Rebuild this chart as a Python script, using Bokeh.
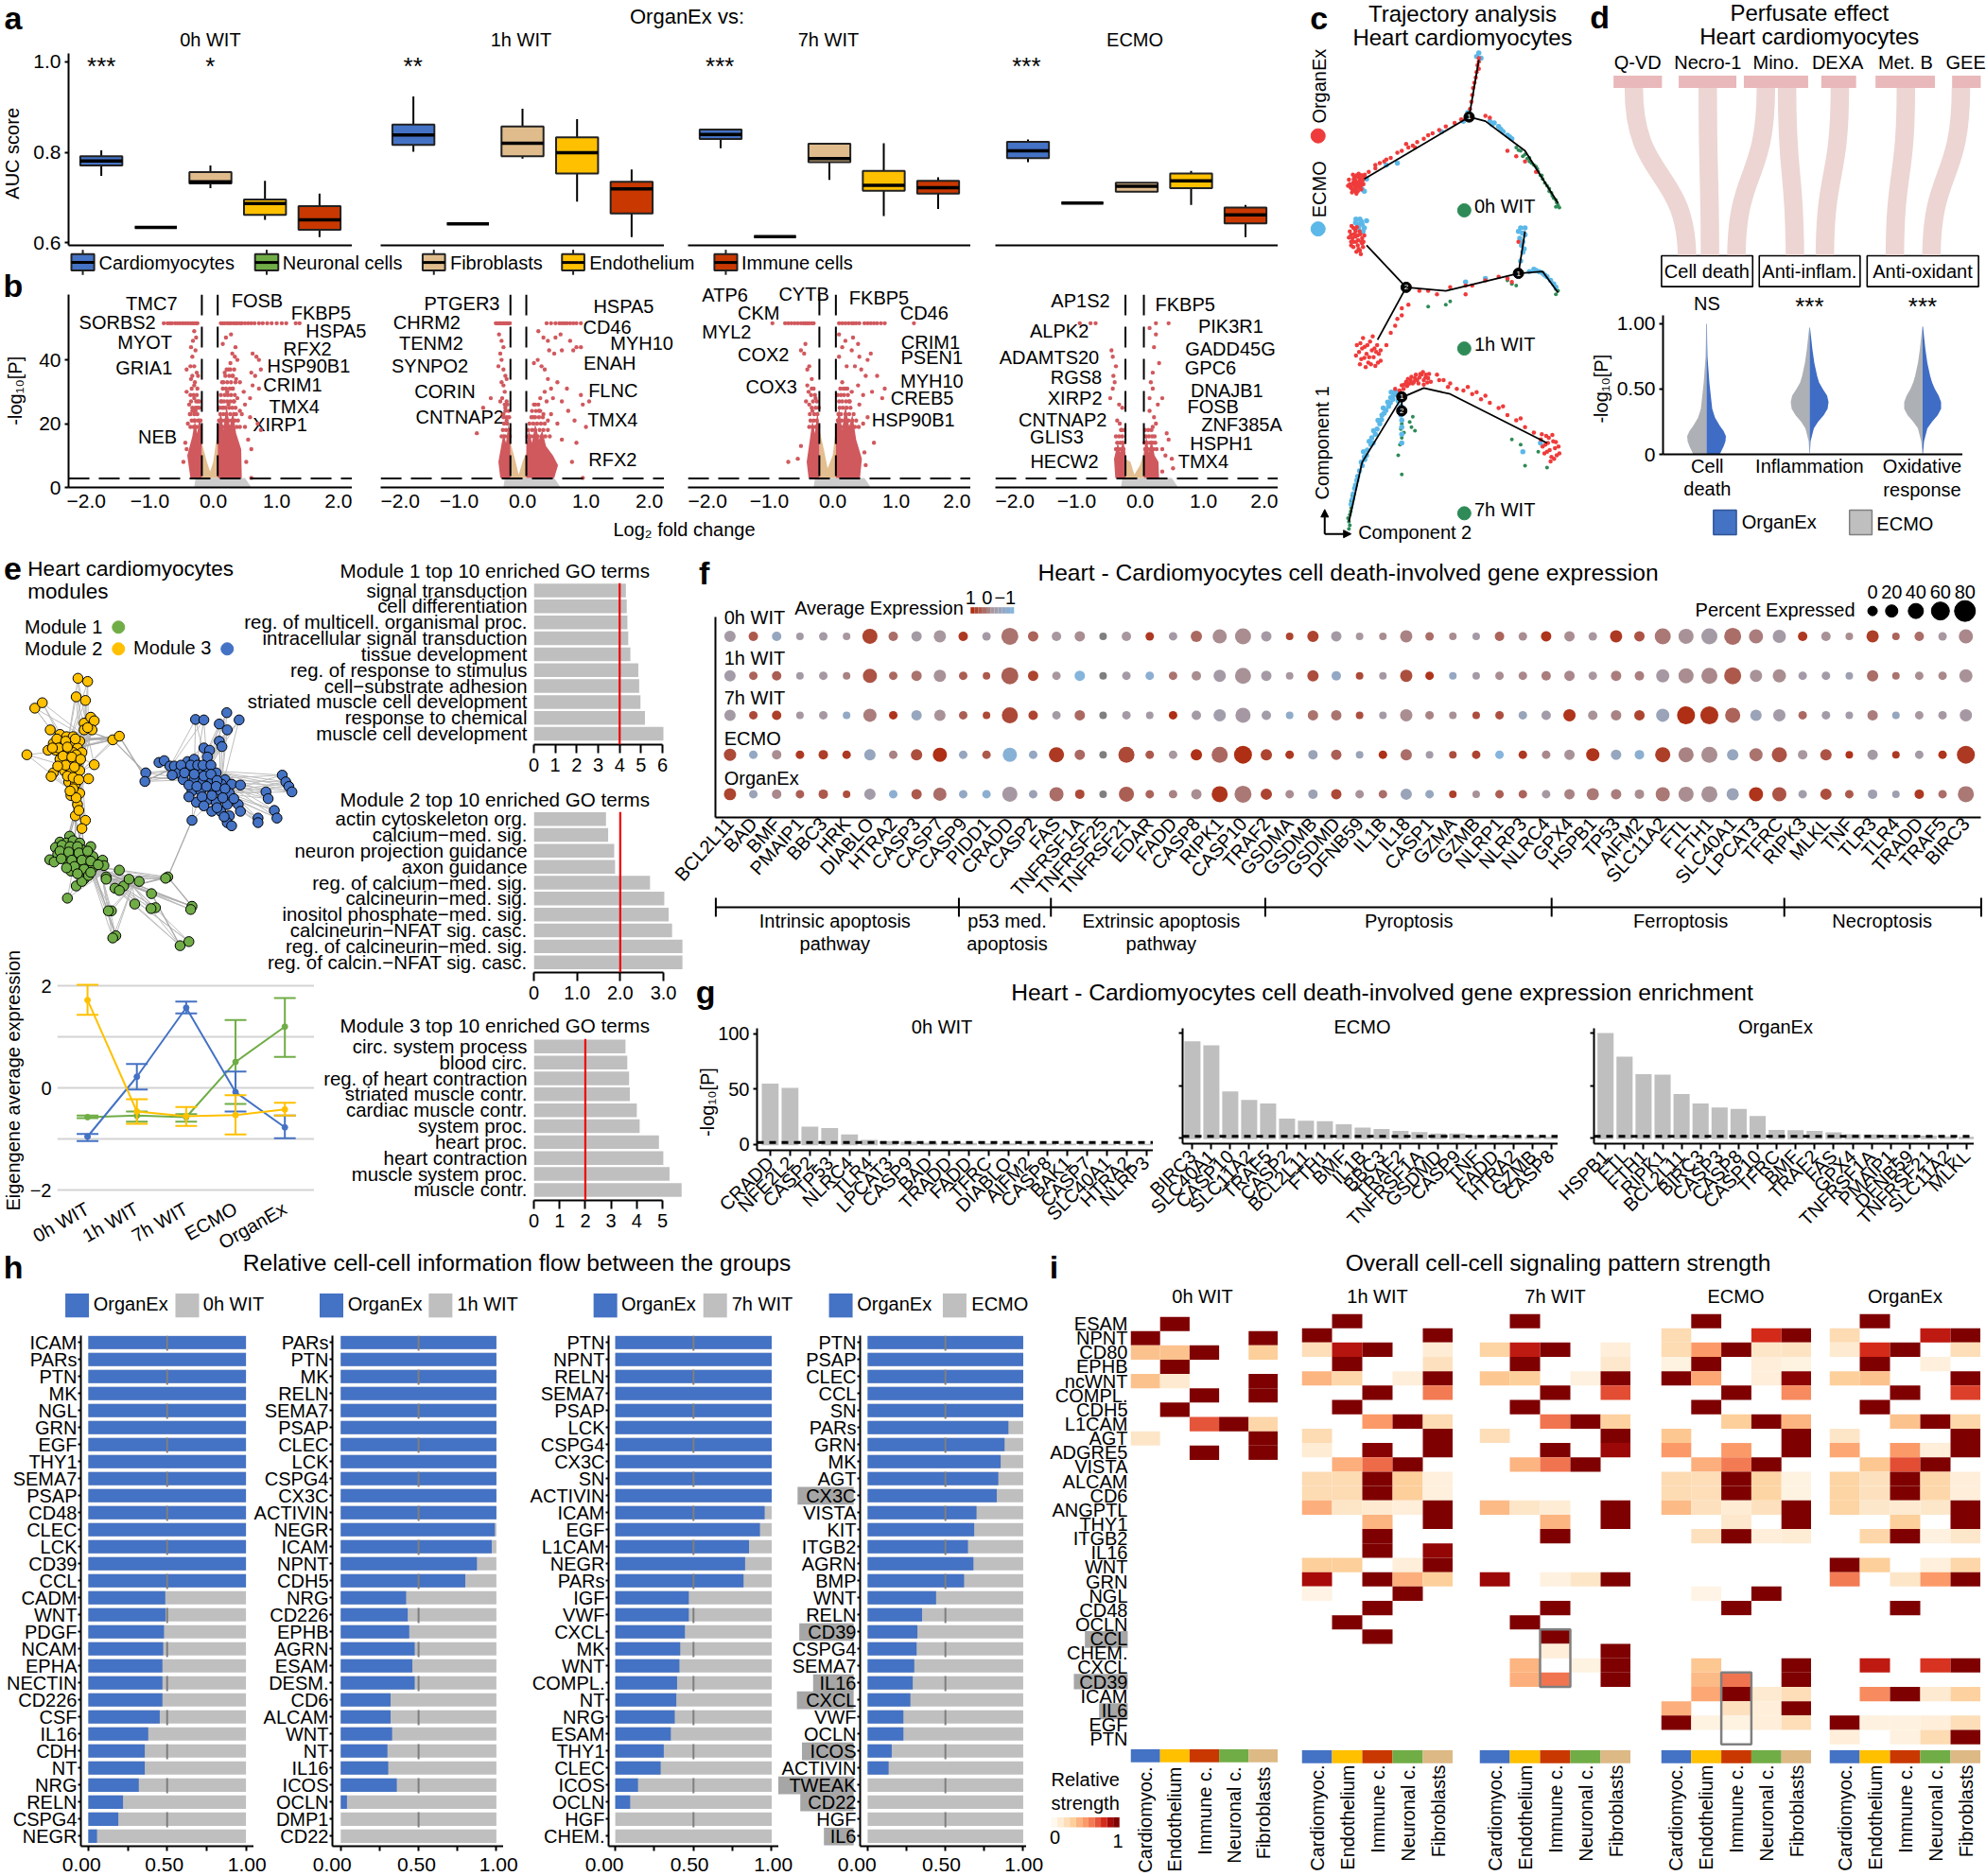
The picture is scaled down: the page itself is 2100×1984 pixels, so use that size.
import math
from bokeh.plotting import figure
from bokeh.layouts import column
from bokeh.models import Range1d, FixedTicker, Span, Arrow, NormalHead
from bokeh.core.properties import value
from bokeh.embed import file_html
from bokeh.resources import INLINE

FONT = "Liberation Sans"
ZOOM = {1:(0,0,2.24,2.75),2:(700,0,2.24,2.75),3:(1370,0,2.148,2.703),4:(0,580,2.148,2.09),
        5:(730,580,2.272,3),6:(1410,580,2.272,3),7:(730,1020,1.1445,3),8:(0,1320,2.8,2.361),
        9:(560,1320,2.8,2.361),10:(1110,1320,3,2.361),11:(1600,1320,3,2.361)}
BLUE="#4472C4"; GREEN="#70AD47"; TAN="#E0BC8C"; YEL="#FFC000"; IMM="#C93800"; GRAY="#BFBFBF"; VRED="#D0595E"

# ---------- panel a data: whisker low, q1, median, q3, whisker high
CELLS = ["Cardiomyocytes","Neuronal cells","Fibroblasts","Endothelium","Immune cells"]
AUC_0H = [[.748,.771,.781,.791,.804],[.634,.634,.634,.634,.634],[.721,.731,.735,.756,.771],[.651,.662,.687,.696,.737],[.613,.629,.651,.681,.709]]
AUC_1H = [[.801,.816,.838,.861,.923],[.642,.642,.642,.642,.642],[.786,.791,.820,.857,.896],[.691,.753,.799,.833,.873],[.613,.665,.719,.735,.762]]
AUC_7H = [[.809,.829,.839,.850,.852],[.614,.614,.614,.614,.614],[.739,.778,.786,.819,.819],[.659,.715,.727,.759,.820],[.675,.709,.722,.737,.745]]
AUC_EC = [[.778,.787,.803,.823,.828],[.688,.688,.688,.688,.688],[.713,.713,.725,.733,.733],[.684,.721,.737,.753,.759],[.613,.643,.662,.678,.684]]

# ---------- panel b data
V1_TOP_R=[.12,.15,.18,.22,.25,.28,.32,.35,.38,.42,.45,.5,.55,.6,.65,.72,.78,.85,.92,1.0,1.08,1.15,1.3,1.36]
V1_TOP_L=[-.78,-.72,-.68,-.65,-.6,-.56,-.52,-.48,-.44,-.4,-.36,-.33,-.3,-.27,-.25]
V1_PTS=[(.2,47),(.28,48),(.15,45),(.35,44),(.3,42),(.34,41),(.27,39),(.38,40),(.62,42),(.68,41),(.72,40),(.75,37),(.6,36),(.66,35),(.62,32),(.72,31),(.58,28),(.18,36),(.24,37),(.3,35),(.36,34),(.42,33),(.48,30),(.5,26),(.45,23),(.58,22),(.5,19),(.7,20),(.75,18),(.55,15),(.6,12),(.6,3),(.52,8),(-.3,49),(-.27,47),(-.32,46),(-.35,44),(-.28,43),(-.33,41),(-.3,38),(-.36,38),(-.42,37),(-.26,36),(-.35,34),(-.3,32),(-.42,30),(-.36,29),(-.3,28),(-.38,26),(-.25,25),(-.33,24),(-.3,21),(-.4,20),(-.44,14),(-.47,8),(-.42,12),(.14,33),(.22,30),(.3,31),(.12,27),(.38,28),(.16,25),(.24,26),(.33,27),(.42,24),(-.22,27),(-.28,24),(-.36,23)]
V1_ROWS=[(19,[-.36,-.31,-.26,-.21,.1,.15,.2,.26,.31,.37,.42]),(21,[-.34,-.29,-.24,-.2,.09,.13,.18,.24,.29,.34,.39]),(23,[-.37,-.3,-.25,.11,.16,.21,.27,.33,.36]),(25,[-.33,-.28,-.22,.1,.14,.19,.25,.3,.35]),(27,[-.35,-.27,-.24,.13,.17,.22,.27,.32]),(29,[-.31,-.26,.12,.18,.23,.28,.34]),(31,[-.34,-.25,.15,.2,.26,.31]),(33,[-.29,.16,.22,.28,.35]),(35,[-.33,-.24,.19,.25,.31]),(37,[.21,.27,.33])]
V2_TOP_R=[.38,.45,.52,.58,.62,.66,.7,.75,.8,.85,.92]
V2_TOP_L=[-.42,-.4,-.38,-.36,-.34,-.32,-.3,-.28,-.26,-.24,-.22,-.2]
V2_PTS=[(.25,49),(.33,47),(.4,46),(.52,47),(.6,48),(.75,46),(.85,44),(.92,44),(.42,43),(.5,42),(.62,43),(.8,43),(.18,39),(.24,40),(.3,38),(.35,37),(.4,34),(.45,31),(.35,30),(.28,28),(.38,27),(.48,28),(.55,33),(.7,31),(.62,27),(.72,24),(.82,21),(.92,29),(.95,26),(1.0,19),(1.05,27),(.85,14),(.62,15),(.55,20),(.45,23),(.95,3),(.78,8),(-.37,48),(-.33,46),(-.3,44),(-.35,42),(-.33,40),(-.38,38),(-.3,37),(-.27,35),(-.33,33),(-.3,32),(-.25,34),(-.28,30),(-.32,28),(-.25,27),(-.27,25),(-.35,27),(-.5,28),(-.62,25),(-.72,17),(-.3,23),(-.25,21),(.2,26),(.26,24),(.33,23),(.4,21),(.17,22)]
V2_ROWS=[(16,[-.33,-.28,-.23,-.2,.08,.13,.18,.24,.3,.36,.43]),(18,[-.31,-.26,-.21,.09,.15,.2,.27,.33,.4]),(20,[-.29,-.24,.11,.17,.23,.29,.35]),(22,[-.3,-.25,-.21,.14,.2,.26,.32]),(24,[-.27,-.22,.15,.21,.28]),(26,[-.28,-.24,.18,.25])]
V3_TOP_R=[.1,.15,.2,.25,.3,.33,.37,.42,.5,.55,.6,.65,.7,.76,.82,1.28]
V3_TOP_L=[-.95,-.75,-.7,-.65,-.6,-.55,-.5,-.46,-.43,-.4,-.37,-.33,-.3]
V3_PTS=[(.1,48),(.2,46),(.32,47),(.4,45),(.15,44),(.3,43),(.42,41),(.55,40),(.6,42),(.1,41),(.22,38),(.35,38),(.45,37),(.52,35),(.7,35),(.82,31),(.78,28),(.62,30),(.48,29),(.4,32),(.3,30),(.26,27),(.42,26),(.55,22),(.48,20),(.65,14),(.5,11),(.52,7),(-.5,43),(-.45,42),(-.43,45),(-.4,37),(-.37,38),(-.33,34),(-.4,32),(-.38,30),(-.33,31),(-.42,27),(-.37,26),(-.32,24),(-.27,28),(-.5,13),(-.55,9),(-.7,8),(.15,33),(.08,29),(.2,31)]
V3_ROWS=[(19,[-.37,-.32,-.27,-.23,.07,.12,.17,.23,.29,.35,.41]),(21,[-.35,-.3,-.25,.08,.14,.19,.25,.31,.37]),(23,[-.36,-.29,-.24,.09,.13,.2,.26,.33]),(25,[-.33,-.27,-.22,.11,.16,.22,.28]),(27,[-.31,-.25,.1,.15,.21,.27]),(29,[-.34,-.28,.13,.18,.24]),(31,[-.3,.12,.17,.23])]
V4_TOP_R=[.25,.45]
V4_TOP_L=[-.95,-.78,-.7]
V4_PTS=[(.15,50),(.25,48),(.22,44),(.3,39),(.2,36),(.17,33),(.2,31),(.15,28),(.35,28),(.28,26),(.15,24),(.22,22),(.42,17),(.45,15),(.35,12),(.4,10),(.5,9),(.52,6),(.35,5),(.25,20),(.2,19),(-.45,43),(-.43,41),(-.38,38),(-.42,35),(-.4,33),(-.43,31),(-.47,28),(-.33,26),(-.28,25),(-.36,21),(-.32,20),(-.3,18),(-.38,16)]
V4_ROWS=[(12,[-.38,-.34,-.3,-.26,.08,.12,.17,.21,.26]),(14,[-.36,-.31,-.27,.07,.11,.16,.2,.24]),(16,[-.33,-.28,.09,.14,.19,.23]),(18,[-.29,-.25,.08,.13,.18])]
V_DENSE_L=[[(-.18,3),(-.18,18),(-.22,22),(-.25,17),(-.29,21),(-.33,16),(-.41,10),(-.36,3)],
           [(-.19,3),(-.19,15),(-.22,20),(-.26,14),(-.3,17),(-.38,8),(-.35,3)],
           [(-.21,3),(-.21,18),(-.24,24),(-.28,17),(-.32,21),(-.36,15),(-.41,8),(-.38,3)],
           [(-.23,3),(-.23,11),(-.27,15),(-.31,11),(-.35,14),(-.41,9),(-.39,3)]]
V_DENSE_R=[[(.07,3),(.07,18),(.12,24),(.16,18),(.21,26),(.26,19),(.31,24),(.36,17),(.44,12),(.45,3)],
           [(.06,3),(.06,13),(.1,18),(.15,14),(.2,20),(.26,15),(.31,18),(.37,13),(.48,10),(.56,7),(.5,3)],
           [(.05,3),(.05,18),(.1,25),(.15,18),(.2,26),(.26,19),(.31,23),(.37,15),(.46,9),(.43,3)],
           [(.06,3),(.06,11),(.1,16),(.14,11),(.18,15),(.23,10),(.29,8),(.3,3)]]
V_TAN=[[(-.18,3),(-.18,14),(-.1,8),(-.05,5),(.0,8),(.07,18),(.07,3)],
       [(-.19,3),(-.19,14),(-.12,9),(-.06,4),(.0,8),(.06,11),(.06,3)],
       [(-.21,3),(-.21,18),(-.14,12),(-.08,6),(.0,10),(.05,18),(.05,3)],
       [(-.23,3),(-.23,9),(-.15,8),(-.09,4),(.0,7),(.06,11),(.06,3)]]
V_ZERO=[225,552,880,1205]
VOLC_LABELS=[(1,358,882,"TMC7"),(1,277,935,"SORBS2"),(1,342,995,"MYOT"),(1,340,1068,"GRIA1"),(1,372,1270,"NEB"),(1,608,872,"FOSB"),(1,759,910,"FKBP5"),(1,795,962,"HSPA5"),(1,727,1013,"RFX2"),(1,730,1062,"HSP90B1"),(1,692,1117,"CRIM1"),(1,696,1182,"TMX4"),(1,662,1232,"XIRP1"),
(1,1093,880,"PTGER3"),(1,1010,935,"CHRM2"),(1,1020,998,"TENM2"),(1,1017,1062,"SYNPO2"),(1,1053,1138,"CORIN"),(1,1088,1212,"CNTNAP2"),(1,1476,890,"HSPA5"),(1,1437,950,"CD46"),(1,1519,998,"MYH10"),(1,1443,1055,"ENAH"),(1,1451,1133,"FLNC"),(1,1450,1220,"TMX4"),(1,1450,1335,"RFX2"),
(2,148,857,"ATP6"),(2,335,855,"CYTB"),(2,228,908,"CKM"),(2,152,965,"MYL2"),(2,239,1030,"COX2"),(2,258,1122,"COX3"),(2,513,865,"FKBP5"),(2,620,910,"CD46"),(2,635,995,"CRIM1"),(2,638,1038,"PSEN1"),(2,638,1108,"MYH10"),(2,615,1157,"CREB5"),(2,594,1220,"HSP90B1"),
(2,990,873,"AP1S2"),(2,940,962,"ALPK2"),(2,916,1038,"ADAMTS20"),(2,980,1097,"RGS8"),(2,977,1157,"XIRP2"),(2,948,1220,"CNTNAP2"),(2,934,1268,"GLIS3"),(2,952,1340,"HECW2"),(2,1238,885,"FKBP5"),(2,1346,947,"PIK3R1"),(2,1345,1014,"GADD45G"),(2,1298,1068,"GPC6"),(2,1337,1133,"DNAJB1"),(2,1304,1182,"FOSB"),(2,1372,1233,"ZNF385A"),(2,1324,1287,"HSPH1"),(2,1281,1340,"TMX4")]

# ---------- panel c data (Component 2, Component 1)
T_LINES=[[(155,510),(393,333)],[(393,333),(415,170)],[(393,333),(430,345),(520,430),(595,580)],
 [(160,700),(250,820)],[(250,820),(185,970)],[(250,820),(340,830),(505,780)],[(505,780),(520,660)],[(505,780),(560,775),(595,835)],
 [(120,1490),(150,1320),(240,1135),(290,1108),(350,1125),(570,1265)],[(240,1135),(240,1175)]]
T_RED=[(125,530),(130,520),(135,515),(140,525),(145,510),(150,520),(128,540),(138,535),(145,530),(133,505),(142,495),(150,500),(155,505),(122,525),(148,540),(135,545),(165,490),(180,470),(190,465),(205,455),(215,450),(230,435),(240,430),(255,420),(265,415),(275,405),(290,395),(300,385),(310,380),(325,370),(340,360),(360,350),(375,340),(385,338),(180,480),(200,460),(250,410),(270,420),(415,165),(415,175),(412,185),(415,195),(410,205),(408,220),(405,235),(402,250),(400,270),(398,290),(395,310),(430,330),(440,335),(480,430),(500,445),(545,490),(520,460),
 (125,670),(130,690),(140,700),(150,680),(135,660),(130,650),(145,715),(135,675),(150,695),(125,690),(240,880),(230,910),(215,950),(205,985),(240,900),(225,930),(255,870),(280,830),(300,830),(320,840),(350,820),(385,815),(385,840),(400,815),(430,800),(460,790),(480,795),(490,805),(505,690),
 (225,1110),(240,1100),(250,1090),(260,1085),(270,1080),(280,1078),(290,1085),(300,1080),(235,1115),(255,1095),(265,1095),(285,1070),(295,1070),(320,1070),(335,1085),(350,1095),(365,1110),(380,1115),(400,1125),(420,1140),(440,1150),(460,1165),(480,1185),(500,1200),(520,1220),(540,1235),(345,1105),(390,1105),(430,1130),(325,1085),(410,1120),(470,1160),(510,1195)]
T_RED_CLOUD=[(120,512),(124,535),(127,549),(131,510),(134,530),(137,552),(141,505),(143,518),(146,538),(149,528),(152,512),(156,498),(126,528),(132,540),(140,545),(118,530),(147,500),(153,525),(137,500),(129,498),(142,532),(135,522),
 (122,660),(126,645),(132,668),(136,690),(140,672),(144,660),(148,690),(152,705),(128,680),(134,655),(142,710),(147,725),(155,672),(120,678),(138,648),(146,668),(130,705),(137,718),(153,690),(125,700),(141,685),
 (138,985),(143,1005),(148,1025),(152,965),(156,990),(160,1010),(164,1035),(168,975),(172,1000),(176,1020),(180,1045),(184,985),(188,1010),(192,1030),(145,1040),(150,995),(158,1048),(166,1020),(174,960),(182,1005),(136,1015),(155,1022),(170,1040),(186,1035),(162,985),(178,995),(146,980),(192,1000),
 (236,1120),(244,1110),(252,1102),(258,1095),(268,1090),(275,1085),(282,1068),(288,1062),(294,1078),(302,1068),(306,1090),(246,1098),(262,1076),(272,1070),(278,1095),(298,1092),(290,1098),(254,1082),
 (556,1255),(560,1275),(564,1295),(568,1245),(572,1265),(576,1285),(580,1305),(584,1260),(588,1280),(592,1300),(596,1275),(558,1240),(570,1290),(578,1318),(586,1310),(598,1295),(566,1270),(582,1242),(590,1262),(574,1250)]
T_BLUE=[(415,150),(410,160),(420,165),(390,320),(440,345),(450,350),(460,360),(470,375),(480,385),(490,395),(230,465),(205,470),(150,540),(155,545),(160,510),(380,345),(330,375),
 (145,625),(135,635),(150,640),(155,650),(160,630),(510,650),(520,670),(505,660),(515,690),(515,720),(510,745),(530,775),(545,772),(560,780),(570,790),(585,810),(590,820),(500,775),(385,805),(430,795),
 (125,1440),(130,1410),(135,1385),(140,1360),(150,1330),(160,1300),(170,1270),(180,1240),(190,1210),(200,1180),(210,1160),(220,1140),(230,1125),(215,1135),(195,1185),(175,1265),(155,1305),(240,1200),(240,1240),(238,1160),(555,1265),(515,1290)]
T_BLUE_CLOUD=[(128,1425),(133,1395),(138,1372),(144,1345),(148,1320),(156,1312),(153,1290),(162,1285),(166,1260),(172,1250),(176,1230),(184,1225),(186,1200),(194,1198),(198,1165),(204,1172),(208,1148),(214,1150),(222,1128),(226,1118),(216,1120),(232,1145),(140,640),(148,632),(142,650),(136,625),(152,660),(508,680),(514,665),(520,650),(512,700),(518,710),(540,768),(552,775),(565,785),(578,800),(240,1220),(238,1185),(240,1265),(445,355),(465,368),(485,390)]
T_GREEN=[(500,420),(510,430),(520,440),(530,450),(535,465),(545,475),(550,490),(560,510),(570,530),(580,550),(590,570),(595,585),(590,590),(530,460),(555,500),(575,545),(585,565),(515,445),
 (595,830),(590,825),(490,810),(500,815),(340,870),(300,875),(350,860),(590,840),(480,800),
 (120,1490),(122,1470),(125,1450),(120,1510),(240,1210),(240,1250),(232,1300),(240,1355),(265,1190),(262,1220),(510,1270),(490,1255),(520,1330),(550,1290),(570,1335),(125,1430),(128,1415),
 (505,428),(525,452),(540,470),(548,482),(558,500),(565,522),(575,538),(582,558),(592,578),(598,592),(118,1480),(124,1460),(122,1500),(238,1225),(236,1270),(245,1235),(258,1205),(270,1230)]
T_NODES=[(393,333,"1"),(250,820,"2"),(505,780,"1"),(240,1133,"1"),(240,1173,"2")]

# ---------- panel d data
PERFUSATES=["Q-VD","Necro-1","Mino.","DEXA","Met. B","GEE"]
PERF_LX=[776,935,1090,1230,1384,1521]
PERF_BOX=[(721,831),(869,1000),(1017,1163),(1193,1272),(1316,1451),(1490,1555)]
FLOWS=[(767,888),(935,940),(1067,1000),(1115,1133),(1235,1201),(1385,1360),(1510,1443)]
VIOLIN_CAT=["Cell death","Inflammation","Oxidative response"]
VIO_V=[[0,.03,.06,.1,.14,.18,.22,.28,.35,.45,.55,.65,.75,.85,.95,1.0],
       [.01,.1,.2,.25,.3,.35,.4,.45,.5,.55,.6,.7,.8,.9,.97],
       [0,.1,.2,.25,.3,.35,.4,.45,.5,.55,.6,.7,.8,.9,.98]]
VIO_W=[[14,16,18,20,20.5,18,14,9,6,4.5,3,2,1,.7,.5,.4],
       [.3,1,4.5,9,15,19,20,18.5,14,10,8,5,3,1.5,.4],
       [.3,1.5,5,10,16,19.5,19.5,17,13,10,8,5,3,1.5,.4]]

# ---------- panel e data
NET_Y=[(176,286),(198,293),(172,327),(193,335),(78,352),(95,340),(190,385),(205,372),(213,380),(208,400),(190,400),(113,400),(135,410),(150,415),(165,415),(180,425),(120,430),(140,430),(160,430),(175,440),(108,445),(125,445),(145,445),(165,450),(185,450),(60,455),(135,465),(155,465),(175,470),(213,477),(120,495),(145,490),(160,490),(180,490),(115,503),(155,515),(170,520),(200,508),(160,545),(180,540),(175,565),(170,590),(193,600),(185,618),(255,422),(270,414),
 (128,420),(148,425),(170,420),(132,440),(152,438),(172,455),(118,440),(142,458),(162,460),(182,465),(148,478),(168,482),(130,480),(152,502),(165,505),(178,510),(165,530),(172,550),(158,535),(178,578),(198,395)]
NET_B=[(443,377),(462,378),(514,362),(542,378),(497,387),(515,400),(497,425),(503,437),(462,440),(475,445),(470,460),(360,472),(372,468),(330,495),(328,514),(385,480),(395,480),(425,470),(440,465),(405,495),(430,490),(450,490),(470,490),(490,495),(390,500),(415,510),(440,510),(460,515),(480,510),(510,510),(525,520),(545,522),(435,535),(455,535),(480,530),(500,535),(520,540),(445,560),(470,555),(490,560),(515,565),(540,565),(480,580),(500,580),(520,590),(545,580),(640,500),(648,515),(655,525),(662,537),(603,537),(608,552),(622,578),(628,595),(585,595),(585,605),(435,600),(515,605),(525,612),
 (410,478),(432,478),(448,478),(460,478),(478,478),(418,495),(440,498),(462,502),(478,498),(502,520),(492,512),(428,522),(446,525),(468,525),(490,525),(510,530),(428,548),(458,548),(480,545),(505,550),(530,552),(462,568),(492,572),(508,592)]
NET_G=[(157,635),(135,648),(150,650),(165,645),(180,650),(125,660),(145,665),(165,665),(185,665),(205,658),(130,675),(150,675),(170,680),(190,680),(210,680),(112,687),(122,692),(155,695),(175,695),(195,695),(232,688),(160,712),(180,705),(210,705),(235,700),(240,725),(270,710),(190,730),(172,745),(185,735),(240,730),(260,750),(280,745),(292,730),(315,735),(380,725),(375,728),(152,772),(270,755),(343,762),(305,785),(252,800),(245,800),(352,793),(342,795),(435,790),(432,797),(262,855),(255,860),(408,877),(428,868),
 (140,655),(158,658),(175,658),(135,668),(155,670),(178,672),(198,668),(138,685),(162,688),(185,688),(205,690),(168,702),(150,705),(190,708),(222,698),(175,718),(200,722),(205,715)]
HUB_Y=[(150,445),(200,420),(170,540),(185,490)]
HUB_B=[(440,510),(500,540),(380,490),(470,490)]
HUB_G=[(170,680),(230,720),(300,745),(200,700)]
NET_LINKS=[((270,414),(328,505)),((255,422),(330,495)),((170,590),(157,635)),((193,600),(175,650)),((185,618),(190,665)),((435,600),(380,725)),((380,725),(435,790)),((300,745),(380,725)),((210,705),(262,855)),((343,762),(408,877)),((440,510),(330,505)),((380,490),(328,514)),((200,420),(270,414)),((150,445),(255,422)),((170,540),(170,650)),((180,540),(150,650)),((160,545),(185,665)),((250,730),(375,728)),((210,705),(435,790)),((230,720),(343,762)),((200,420),(255,422)),((185,425),(270,414)),((190,400),(255,422))]
TIMEPOINTS=["0h WIT","1h WIT","7h WIT","ECMO","OrganEx"]
M1_MEAN=[-.57,-.54,-.57,.51,1.2];  M1_LO=[-.59,-.66,-.66,-.31,.61];  M1_HI=[-.54,-.46,-.51,1.33,1.76]
M2_MEAN=[1.72,-.46,-.55,-.53,-.42];M2_LO=[1.43,-.70,-.74,-.91,-.54]; M2_HI=[2.02,-.22,-.37,-.14,-.29]
M3_MEAN=[-.95,.22,1.57,-.08,-.77]; M3_LO=[-1.04,-.03,1.46,-.46,-.98];M3_HI=[-.9,.47,1.69,.32,-.54]
GO1=["signal transduction","cell differentiation","reg. of multicell. organismal proc.","intracellular signal transduction","tissue development","reg. of response to stimulus","cell\u2212substrate adhesion","striated muscle cell development","response to chemical","muscle cell development"]
GO1_V=[4.29,4.33,4.36,4.40,4.50,4.87,4.91,4.97,5.18,6.04]
GO2=["actin cytoskeleton org.","calcium\u2212med. sig.","neuron projection guidance","axon guidance","reg. of calcium\u2212med. sig.","calcineurin\u2212med. sig.","inositol phosphate\u2212med. sig.","calcineurin\u2212NFAT sig. casc.","reg. of calcineurin\u2212med. sig.","reg. of calcin.\u2212NFAT sig. casc."]
GO2_V=[1.67,1.72,1.86,1.88,2.69,3.02,3.12,3.20,3.44,3.44]
GO3=["circ. system process","blood circ.","reg. of heart contraction","striated muscle contr.","cardiac muscle contr.","system proc.","heart proc.","heart contraction","muscle system proc.","muscle contr."]
GO3_V=[3.56,3.63,3.70,3.73,4.0,4.11,4.86,5.03,5.27,5.74]

# ---------- panel f data
GENES=["BCL2L11","BAD","BMF","PMAIP1","BBC3","HRK","DIABLO","HTRA2","CASP3","CASP7","CASP9","PIDD1","CRADD","CASP2","FAS","TNFRSF1A","TNFRSF25","TNFRSF21","EDAR","FADD","CASP8","RIPK1","CASP10","TRAF2","GSDMA","GSDMB","GSDMD","DFNB59","IL1B","IL18","CASP1","GZMA","GZMB","NLRP1","NLRP3","NLRC4","GPX4","HSPB1","TP53","AIFM2","SLC11A2","FTL","FTH1","SLC40A1","LPCAT3","TFRC","RIPK3","MLKL","TNF","TLR3","TLR4","TRADD","TRAF5","BIRC3"]
N=None
PCT=[[24,12,12,0,6,0,48,12,18,30,12,6,60,18,12,18,0,12,6,6,24,42,54,18,0,24,18,0,0,30,6,0,0,12,6,18,18,6,30,18,54,48,54,60,42,36,12,12,0,30,0,12,6,42],
     [24,6,12,0,6,0,42,6,18,30,6,0,60,18,6,18,0,6,6,6,12,30,54,18,0,24,12,0,0,30,6,0,0,6,6,12,18,6,18,12,36,48,54,60,30,36,6,6,0,24,0,6,6,36],
     [24,6,12,0,6,0,36,6,18,24,6,0,54,12,6,18,0,6,0,6,12,30,48,12,0,18,18,0,0,30,6,0,0,6,6,12,30,12,18,18,36,66,66,48,24,30,6,6,0,18,0,6,6,30],
     [30,6,12,6,12,6,24,6,24,42,6,6,42,6,48,18,0,54,6,6,24,54,66,24,6,12,18,0,6,24,0,0,6,6,6,6,18,36,18,12,48,48,54,24,36,48,12,24,0,18,0,6,6,66],
     [30,6,12,6,12,0,24,6,18,36,6,6,48,6,42,12,0,48,6,6,18,54,60,24,6,12,18,6,6,24,6,0,0,6,6,6,18,30,18,12,42,48,54,30,42,42,6,24,6,12,0,12,6,54]]
EXPR=[[-.1,.6,-.5,-.1,-.1,0,.8,.4,-.1,0,.9,-.1,.35,.5,0,.1,N,0,.9,-.1,.45,.1,.1,-.1,.8,.8,-.1,0,.1,.2,.4,.1,-.1,.5,.1,.95,.1,0,.9,.65,.3,.05,-.1,.4,.25,-.1,.9,.05,.1,.85,.5,.4,0,.15],
      [-.15,.5,.55,-.1,-.05,.2,.65,.45,.35,.05,.55,.6,.55,.8,0,-1,N,-.1,-.8,.35,.1,-.1,.05,-.1,0,.7,-.6,.75,-.05,.7,.95,-.55,-.1,.1,.15,.25,.15,0,.25,.25,-.05,.1,.15,.6,.05,.1,-.15,-.15,-.3,.4,.35,.1,.15,.05],
      [-.1,.75,.85,-.05,-.05,-.6,.25,.95,-.5,.05,.55,.75,.75,.8,-.1,.45,N,-.1,-.1,1,-.1,-.2,-.05,-.15,-.7,.35,.35,.7,-.1,.1,.2,.05,.7,.7,-.45,-.15,.95,.05,.2,.8,-.4,1,.95,.5,-.4,-.15,.45,-.15,-.15,.25,-.5,0,-.05,-.05],
      [.75,-.6,.1,.9,.85,.9,-.5,.2,.7,1,-.5,.6,-.9,-.55,.9,.45,N,.75,.6,0,.98,.45,1,.8,.9,-.4,.55,-.4,.97,.4,-.15,.7,.8,-1,.9,.15,.05,.95,-.5,-.8,.85,.2,.1,-.5,.35,.65,0,.65,.95,-.1,.9,-.1,.95,.9],
      [.8,-.4,.15,.55,.6,.7,-.15,-.8,.6,.4,-.6,-.8,-.05,-.35,.4,.75,N,.55,.5,.2,.1,.95,.3,.8,.1,-.35,.75,.05,.4,-.4,-.5,.85,.05,.55,.5,-.05,.2,.3,.25,.1,.3,.1,.05,-.4,.95,.65,-.2,.7,.6,-.3,-.3,.9,.4,.3]]
GENE_GROUPS=[(5,346,"Intrinsic apoptosis","pathway"),(5,760,"p53 med.","apoptosis"),(5,1130,"Extrinsic apoptosis","pathway"),(6,180,"Pyroptosis",""),(6,833,"Ferroptosis",""),(6,1317,"Necroptosis","")]
GROUP_BREAKS=[(5,60),(5,644),(5,865),(5,1380),(6,523),(6,1082),(6,1555)]

# ---------- panel g data
G0=["CRADD","NFE2L2","CASP2","TP53","NLRC4","TLR4","LPCAT3","CASP9","BAD","TRADD","FADD","TFRC","DIABLO","AIFM2","CASP8","BAK1","CASP7","SLC40A1","HTRA2","NLRP3"]
G0_V=[54.9,50.9,16,14.6,8.9,4,2.9,2.3,1.5,1.3,1.2,1,.9,.8,.7,.6,.5,.4,.3,.3]
G1=["BIRC3","SLC40A1","CASP10","SLC11A2","TRAF5","CASP2","BCL2L11","FTH1","BMF","IL1B","BBC3","TRAF2","TNFRSF1A","GSDMD","CASP9","TNF","FADD","HTRA2","GZMB","CASP8"]
G1_V=[92.3,88.6,44.6,36.3,33.1,18.6,16.6,16,13.1,10,8.6,6.9,5.7,4.3,4.3,2.6,2.3,2,1.4,1.1]
G2=["HSPB1","FTL","FTH1","RIPK1","BCL2L11","BIRC3","CASP3","CASP8","CASP10","TFRC","BMF","TRAF2","FAS","GPX4","TNFRSF1A","PMAIP1","DFNB59","TNFRSF21","SLC11A2","MLKL"]
G2_V=[100.3,77.7,60.9,60.6,42,32.9,29.1,27.7,21.1,7.7,7.4,6.9,5.4,3.7,3.4,3.1,2.9,2.3,1.7,1.1]

# ---------- panel h data
H1=["ICAM","PARs","PTN","MK","NGL","GRN","EGF","THY1","SEMA7","PSAP","CD48","CLEC","LCK","CD39","CCL","CADM","WNT","PDGF","NCAM","EPHA","NECTIN","CD226","CSF","IL16","CDH","NT","NRG","RELN","CSPG4","NEGR"]
H1_V=[1]*15+[.488,.49,.48,.475,.47,.47,.47,.453,.38,.358,.358,.32,.22,.19,.055]
H2=["PARs","PTN","MK","RELN","SEMA7","PSAP","CLEC","LCK","CSPG4","CX3C","ACTIVIN","NEGR","ICAM","NPNT","CDH5","NRG","CD226","EPHB","AGRN","ESAM","DESM.","CD6","ALCAM","WNT","NT","IL16","ICOS","OCLN","DMP1","CD22"]
H2_V=[1]*11+[.99,.97,.875,.80,.42,.43,.44,.475,.46,.475,.32,.32,.33,.30,.305,.36,.04,0,0]
H3=["PTN","NPNT","RELN","SEMA7","PSAP","LCK","CSPG4","CX3C","SN","ACTIVIN","ICAM","EGF","L1CAM","NEGR","PARs","IGF","VWF","CXCL","MK","WNT","COMPL.","NT","NRG","ESAM","THY1","CLEC","ICOS","OCLN","HGF","CHEM."]
H3_V=[1]*10+[.955,.925,.855,.83,.82,.47,.47,.445,.415,.41,.395,.39,.38,.355,.31,.29,.145,.095,0,0]
H4=["PTN","PSAP","CLEC","CCL","SN","PARs","GRN","MK","AGT","CX3C","VISTA","KIT","ITGB2","AGRN","BMP","WNT","RELN","CD39","CSPG4","SEMA7","IL16","CXCL","VWF","OCLN","ICOS","ACTIVIN","TWEAK","CD22","HGF","IL6"]
H4_V=[1]*5+[.905,.88,.855,.84,.83,.70,.685,.645,.68,.62,.44,.35,.32,.315,.30,.29,.275,.23,.23,.155,.135,0,0,0,0]
H4_MARK={"CX3C":792,"CD39":797,"IL16":838,"CXCL":790,"ICOS":805,"TWEAK":735,"CD22":800,"IL6":870}
H_TICK_TEXT=[(8,240,"0.00"),(8,485,"0.50"),(8,730,"1.00"),(8,982,"0.00"),(8,1232,"0.50"),(8,1475,"1.00"),(9,220,"0.00"),(9,472,"0.50"),(9,720,"1.00"),(9,968,"0.00"),(9,1218,"0.50"),(9,1462,"1.00")]

# ---------- panel i data
SIGNALS=["ESAM","NPNT","CD80","EPHB","ncWNT","COMPL.","CDH5","L1CAM","AGT","ADGRE5","VISTA","ALCAM","CD6","ANGPTL","THY1","ITGB2","IL16","WNT","GRN","NGL","CD48","OCLN","CCL","CHEM.","CXCL","CD39","ICAM","IL6","EGF","PTN"]
CELLS_I=["Cardiomyoc.","Endothelium","Immune c.","Neuronal c.","Fibroblasts"]
STR_0H={"ESAM":[N,1,N,N,N],"NPNT":[1,N,N,N,1],"CD80":[.35,.35,1,N,.3],"EPHB":[N,1,N,N,N],"ncWNT":[.35,.12,N,N,1],"COMPL.":[N,N,1,N,1],"CDH5":[N,1,N,N,N],"L1CAM":[N,N,.7,1,.25],"AGT":[.15,N,N,N,1],"ADGRE5":[N,N,1,N,1]}
STR_1H={"ESAM":[N,1,N,N,N],"NPNT":[1,N,N,N,1],"CD80":[.2,.87,1,N,.1],"EPHB":[N,1,N,N,.18],"ncWNT":[.4,.25,N,.08,1],"COMPL.":[N,N,1,N,.6],"CDH5":[N,1,N,N,N],"L1CAM":[N,N,.5,1,.22],"AGT":[.22,N,N,N,1],"ADGRE5":[.1,N,.98,N,1],"VISTA":[N,.42,.65,1,N],"ALCAM":[.22,.22,1,.3,.07],"CD6":[.22,.22,1,.3,.07],"ANGPTL":[.42,.15,.12,.08,1],"THY1":[N,N,.4,N,1],"ITGB2":[N,N,1,N,N],"IL16":[N,N,1,N,.95],"WNT":[.3,.3,N,.08,1],"GRN":[.9,N,1,.42,.3],"NGL":[.04,N,N,1,N],"CD48":[N,N,1,N,N],"OCLN":[N,1,N,N,N],"CCL":[N,N,1,N,N]}
STR_7H={"ESAM":[N,1,N,N,N],"CD80":[.27,.85,1,N,.08],"EPHB":[N,1,N,N,.13],"ncWNT":[.33,.3,N,.06,1],"COMPL.":[N,N,1,N,.72],"CDH5":[N,1,N,N,N],"L1CAM":[N,N,.62,1,.28],"AGT":[.2,N,N,N,1],"ADGRE5":[N,N,1,N,.93],"VISTA":[N,.4,.62,1,N],"ANGPTL":[.38,.15,.1,N,1],"THY1":[N,N,.4,N,1],"ITGB2":[N,N,1,N,N],"GRN":[.93,N,.06,.15,1],"CD48":[N,N,1,N,N],"OCLN":[N,1,N,N,N],"CCL":[N,N,1,N,N],"CHEM.":[N,N,.08,N,1],"CXCL":[N,.4,N,.05,1],"CD39":[N,.42,.62,N,1]}
STR_EC={"ESAM":[N,1,N,N,N],"NPNT":[.22,N,N,.8,1],"CD80":[.22,.5,1,.15,.17],"EPHB":[.05,1,N,.08,.05],"ncWNT":[1,.45,N,.08,.97],"COMPL.":[N,N,1,N,.55],"CDH5":[N,1,N,N,N],"L1CAM":[N,N,.3,1,.4],"AGT":[.33,N,N,N,1],"ADGRE5":[.5,N,.5,N,1],"VISTA":[N,.42,.6,1,N],"ALCAM":[.22,.2,1,.27,.05],"CD6":[.22,.2,1,.27,.05],"ANGPTL":[.38,.18,.1,.18,1],"THY1":[N,N,.13,N,1],"ITGB2":[N,.18,1,.08,.1],"NGL":[N,.03,N,1,N],"CD48":[N,N,1,N,N],"CXCL":[N,.33,N,N,1],"CD39":[N,.38,.62,N,1],"ICAM":[N,.45,1,.12,.2],"IL6":[.42,N,.18,.08,1],"EGF":[1,.05,.05,.08,.2]}
STR_OX={"ESAM":[N,1,N,N,N],"NPNT":[.22,N,N,.85,1],"CD80":[.12,.8,1,N,.2],"EPHB":[N,1,N,.07,N],"ncWNT":[.3,.35,N,N,1],"COMPL.":[N,N,1,N,.75],"CDH5":[N,1,N,N,N],"L1CAM":[N,N,.35,1,.25],"AGT":[.15,N,N,N,1],"ADGRE5":[.45,N,.5,.08,1],"VISTA":[N,.33,.72,1,N],"ALCAM":[.27,.18,1,.25,.08],"CD6":[.27,.18,1,.25,.08],"ANGPTL":[.27,.14,.12,.14,1],"THY1":[N,N,.3,N,1],"ITGB2":[N,.25,1,.06,.14],"WNT":[1,.3,N,.07,.25],"GRN":[.6,N,.15,.5,1],"CD48":[N,N,1,N,N],"CXCL":[N,.85,N,.78,1],"ICAM":[N,.55,1,.12,.28],"EGF":[1,.06,.06,.08,.2],"PTN":[.08,N,.06,.22,1]}

# ---------- helpers
def Z(k,x,y):
    x0,y0,sx,sy=ZOOM[k]
    return x0+x/sx, y0+y/sy

def mk(x0,y0,x1,y1,xr,yr,left=0,right=0,top=0,bottom=0,axes=True):
    p=figure(width=x1-x0+left+right,height=y1-y0+top+bottom,
             x_range=Range1d(*xr),y_range=Range1d(*yr),toolbar_location=None,tools="",output_backend="svg",
             min_border_left=left,min_border_right=right,min_border_top=top,min_border_bottom=bottom,
             outline_line_color=None,background_fill_color=None,border_fill_color=None,frame_align=False,
             styles={"position":"absolute","left":f"{x0-left}px","top":f"{y0-top}px"})
    p.grid.visible=False
    if not axes:
        p.axis.visible=False
    return p

def style_axis(a,ticks=None,over=None,size=20,line=2,out=0,standoff=4,orient=None,color="black"):
    if ticks is not None:
        a.ticker=FixedTicker(ticks=ticks)
    if over is not None:
        a.major_label_overrides=over
    a.major_label_text_font=FONT
    a.major_label_text_font_size=f"{size}px"
    a.major_label_text_color="black"
    a.axis_line_color=color if line else None
    a.axis_line_width=line or 1
    a.major_tick_line_color="black" if out else None
    a.major_tick_line_width=2
    a.major_tick_out=out
    a.major_tick_in=0
    a.minor_tick_line_color=None
    a.major_label_standoff=standoff
    if orient is not None:
        a.major_label_orientation=orient

figs=[]
ov=mk(0,0,2100,1984,(0,2100),(1984,0),axes=False)
figs.append(ov)

def T(k,x,y,s,size=20,align="center",angle=0,bold=False,color="black"):
    px,py=Z(k,x,y) if k else (x,y)
    ov.text(x=[px],y=[py],text=[s],text_font=value(FONT),text_font_size=f"{size}px",text_align=align,
            text_baseline="middle",angle=angle,text_font_style="bold" if bold else "normal",text_color=color)

def Q(k,x0,y0,x1,y1,fill,line=None,lw=1):
    a,b=Z(k,x0,y0) if k else (x0,y0)
    c,d=Z(k,x1,y1) if k else (x1,y1)
    ov.quad(left=[a],right=[c],top=[b],bottom=[d],fill_color=fill,line_color=line,line_width=lw)

def L(k,pts,color="black",lw=2):
    P=[Z(k,*q) if k else q for q in pts]
    ov.line([q[0] for q in P],[q[1] for q in P],line_color=color,line_width=lw)

def lerp_hex(stops,v):
    for (a,ca),(b,cb) in zip(stops,stops[1:]):
        if v<=b:
            t=(v-a)/(b-a) if b>a else 0
            c=[round(int(ca[i:i+2],16)*(1-t)+int(cb[i:i+2],16)*t) for i in (1,3,5)]
            return "#%02X%02X%02X"%tuple(c)
    return stops[-1][1]

# ---------- panel letters
for k,x,y,s in [(1,30,52,"a"),(1,30,830,"b"),(3,52,50,"c"),(3,690,48,"d"),(4,28,44,"e"),(5,32,75,"f"),(7,18,85,"g"),(8,38,45,"h"),(10,12,45,"i")]:
    T(k,x,y,s,34,bold=True)

# ---------- panel a
FX=[(72,372),(402,702),(727,1026),(1052,1351)]
CCOL=[BLUE,GREEN,TAN,YEL,IMM]
for i,(fx,stats) in enumerate(zip(FX,[AUC_0H,AUC_1H,AUC_7H,AUC_EC])):
    p=mk(fx[0],56,fx[1],259,(.4,5.6),(.5946,1.018),left=60 if i==0 else 0,top=15,bottom=15)
    xs=[1,2,3,4,5]
    p.segment(xs,[s[0] for s in stats],xs,[s[4] for s in stats],line_color="black",line_width=2)
    p.quad(left=[x-.385 for x in xs],right=[x+.385 for x in xs],bottom=[s[1] for s in stats],top=[s[3] for s in stats],fill_color=CCOL,line_color="#222222",line_width=2)
    p.segment([x-.385 for x in xs],[s[2] for s in stats],[x+.385 for x in xs],[s[2] for s in stats],line_color="black",line_width=3.5)
    style_axis(p.xaxis[0],[],{},line=2)
    if i==0:
        style_axis(p.yaxis[0],[.6,.8,1.0],{.6:"0.6",.8:"0.8",1.0:"1.0"},size=21,out=4)
    else:
        p.yaxis.visible=False
    figs.append(p)
T(1,497,115,"0h WIT");T(1,1233,115,"1h WIT");T(2,393,115,"7h WIT");T(2,1119,115,"ECMO")
T(0,726,17,"OrganEx vs:",22)
T(1,28,445,"AUC score",20,angle=math.pi/2)
for k,x,s in [(1,239,"***"),(1,497,"*"),(1,977,"**"),(2,136,"***"),(2,862,"***")]:
    T(k,x,190,s,26)
for (k,a,b,tx),c,s in zip([(1,168,222,233),(1,603,658,668),(1,1000,1053,1065),(1,1330,1383,1395),(2,123,177,187)],CCOL,CELLS):
    mid=(a+b)/2
    L(k,[(mid,725),(mid,798)],"#222222",2)
    Q(k,a,738,b,785,c,"#222222",2)
    L(k,[(a,762),(b,762)],"black",3)
    T(k,tx,762,s,20,align="left")

# ---------- panel b
VDATA=[(V1_TOP_L,V1_TOP_R,V1_PTS,V1_ROWS),(V2_TOP_L,V2_TOP_R,V2_PTS,V2_ROWS),(V3_TOP_L,V3_TOP_R,V3_PTS,V3_ROWS),(V4_TOP_L,V4_TOP_R,V4_PTS,V4_ROWS)]
VDASH=[(-.18,.07),(-.19,.06),(-.21,.05),(-.23,.06)]
for i,(fx,zero,(tl,tr,pts,vrows)) in enumerate(zip(FX,V_ZERO,VDATA)):
    xr=((fx[0]-zero)/67.1,(fx[1]-zero)/67.1)
    p=mk(fx[0],311,fx[1],515,xr,(0,60.5),left=60 if i==0 else 0,bottom=28)
    p.patch([-.3,-.28,.5,.6],[0,3,3,0],fill_color="#CCCCCC",line_color=None)
    p.patch([q[0] for q in V_TAN[i]],[q[1] for q in V_TAN[i]],fill_color="#E3BE90",line_color=None)
    for poly in (V_DENSE_L[i],V_DENSE_R[i]):
        p.patch([q[0] for q in poly],[q[1] for q in poly],fill_color=VRED,line_color=None)
    xs=list(tl)+list(tr)+[q[0] for q in pts]
    ys=[51.5]*(len(tl)+len(tr))+[q[1] for q in pts]
    for yy,row in vrows:
        xs+=row; ys+=[yy]*len(row)
    p.scatter(xs,ys,size=4.4,color=VRED,line_color=None)
    for d in VDASH[i]:
        p.add_layout(Span(location=d,dimension="height",line_color="black",line_width=2,line_dash="22 12"))
    p.add_layout(Span(location=2.8,dimension="width",line_color="black",line_width=2,line_dash="22 10"))
    style_axis(p.xaxis[0],[-2,-1,0,1,2],{-2:"\u22122.0",-1:"\u22121.0",0:"0.0",1:"1.0",2:"2.0"},size=21,line=2,standoff=7)
    if i==0:
        style_axis(p.yaxis[0],[0,20,40],{0:"0",20:"20",40:"40"},size=21,out=4)
    else:
        p.yaxis.visible=False
    figs.append(p)
for k,x,y,s in VOLC_LABELS:
    T(k,x,y,s,20)
T(1,35,1135,"-log\u2081\u2080[P]",20,angle=math.pi/2)
T(0,723,559,"Log\u2082 fold change",20)

# ---------- panel c
def zr3(px0,px1,py0,py1):
    x0,y0,sx,sy=ZOOM[3]
    return ((px0-x0)*sx,(px1-x0)*sx),((py1-y0)*sy,(py0-y0)*sy)
xr,yr=zr3(1417,1654,52,570)
p=mk(1417,52,1654,570,xr,yr,axes=False)
p.scatter([q[0] for q in T_GREEN],[q[1] for q in T_GREEN],size=4,color="#2E8B57",line_color=None)
bl=T_BLUE+T_BLUE_CLOUD
p.scatter([q[0] for q in bl],[q[1] for q in bl],size=5.5,color="#5BB8E8",line_color=None)
rd=T_RED+T_RED_CLOUD
p.scatter([q[0] for q in rd],[q[1] for q in rd],size=4.5,color="#EF3B3B",line_color=None)
for ln in T_LINES:
    p.line([q[0] for q in ln],[q[1] for q in ln],line_color="black",line_width=1.8)
p.scatter([q[0] for q in T_NODES],[q[1] for q in T_NODES],size=11,color="black")
p.text([q[0] for q in T_NODES],[q[1] for q in T_NODES],text=[q[2] for q in T_NODES],text_color="white",text_font_size="8px",text_align="center",text_baseline="middle",text_font=value(FONT))
figs.append(p)
T(3,378,38,"Trajectory analysis",24);T(3,378,105,"Heart cardiomyocytes",24)
T(3,52,245,"OrganEx",20,angle=math.pi/2);T(3,52,540,"ECMO",20,angle=math.pi/2)
T(3,58,1265,"Component 1",20,angle=math.pi/2);T(3,270,1520,"Component 2",20)
for y,c in [(387,"#EF3B3B"),(653,"#5BB8E8")]:
    a,b=Z(3,50,y); ov.scatter([a],[b],size=15,color=c)
for y,ty,s in [(600,588,"0h WIT"),(995,983,"1h WIT"),(1466,1455,"7h WIT")]:
    a,b=Z(3,382,y); ov.scatter([a],[b],size=14,color="#2E8B57")
    T(3,474,ty,s,20)
a0,b0=Z(3,65,1455);a1,b1=Z(3,65,1525);a2,b2=Z(3,125,1525)
ov.add_layout(Arrow(end=NormalHead(size=8,fill_color="black",line_color="black"),x_start=a1,y_start=b1,x_end=a0,y_end=b0,line_width=2))
ov.add_layout(Arrow(end=NormalHead(size=8,fill_color="black",line_color="black"),x_start=a1,y_start=b1,x_end=a2,y_end=b2,line_width=2))

# ---------- panel d
xr,yr=zr3(1700,2096,78,270)
p=mk(1700,78,2096,270,xr,yr,axes=False)
for a,b in PERF_BOX:
    p.quad(left=[a],right=[b],top=[215],bottom=[250],fill_color="#E9B8BA",line_color=None)
for a,b in FLOWS:
    p.bezier(x0=[a],y0=[250],x1=[b],y1=[740],cx0=[a],cy0=[520],cx1=[b],cy1=[480],line_color="#ECD5D2",line_width=19.5)
figs.append(p)
for x,s in zip(PERF_LX,PERFUSATES):
    T(3,x,178,s,20)
T(3,1166,35,"Perfusate effect",24);T(3,1166,103,"Heart cardiomyocytes",24)
for a,b,s,sx in [(830,1037,"Cell death",933),(1052,1281,"Anti-inflam.",1166),(1297,1550,"Anti-oxidant",1423)]:
    Q(3,a,730,b,818,"white","black",1.6)
    T(3,sx,775,s,20)
T(3,933,865,"NS",20);T(3,1166,875,"***",26);T(3,1423,875,"***",26)
VX=[1804,1913,2032.5]
p=mk(1758,333,2075,480,(1758,2075),(0,1.065),left=60,top=15,bottom=15)
for cx,v,w in zip(VX,VIO_V,VIO_W):
    p.patch([cx-q for q in w]+[cx,cx],v+[v[-1],v[0]],fill_color="#ADB0B5",line_color=None)
    p.patch([cx+q for q in w]+[cx,cx],v+[v[-1],v[0]],fill_color="#3F6CC4",line_color=None)
style_axis(p.xaxis[0],[],{},line=2)
style_axis(p.yaxis[0],[0,.5,1],{0:"0",.5:"0.50",1:"1.00"},size=21,out=4)
figs.append(p)
T(3,692,1110,"-log\u2081\u2080[P]",20,angle=math.pi/2)
T(3,934,1330,"Cell",20);T(3,934,1397,"death",20);T(3,1166,1332,"Inflammation",20);T(3,1422,1332,"Oxidative",20);T(3,1422,1400,"response",20)
Q(3,948,1457,1000,1527,BLUE,"#2F5597",1.5);T(3,1097,1492,"OrganEx",20)
Q(3,1257,1457,1308,1527,GRAY,"#808080",1.5);T(3,1383,1495,"ECMO",20)

# ---------- panel e: network
T(4,62,44,"Heart cardiomyocytes",22.5,align="left");T(4,62,95,"modules",22.5,align="left")
T(4,55,172,"Module 1",20,align="left");T(4,55,221,"Module 2",20,align="left");T(4,302,219,"Module 3",20,align="left")
for x,y,c in [(268,173,GREEN),(268,221,YEL),(515,221,BLUE)]:
    a,b=Z(4,x,y); ov.scatter([a],[b],size=13,color=c)
x0z,y0z,sxz,syz=ZOOM[4]
p=mk(15,700,320,1010,((15-x0z)*sxz,(320-x0z)*sxz),((1010-y0z)*syz,(700-y0z)*syz),axes=False)
for nodes,hubs in [(NET_Y,HUB_Y),(NET_B,HUB_B),(NET_G,HUB_G)]:
    xs0=[];ys0=[];xs1=[];ys1=[]
    for n in nodes:
        for h in sorted(hubs,key=lambda q:(q[0]-n[0])**2+(q[1]-n[1])**2)[:3]:
            xs0.append(n[0]);ys0.append(n[1]);xs1.append(h[0]);ys1.append(h[1])
    p.segment(xs0,ys0,xs1,ys1,line_color="#BDBDBD",line_width=1)
p.segment([q[0][0] for q in NET_LINKS],[q[0][1] for q in NET_LINKS],[q[1][0] for q in NET_LINKS],[q[1][1] for q in NET_LINKS],line_color="#A8A8A8",line_width=1.3)
for nodes,c in [(NET_Y,YEL),(NET_B,BLUE),(NET_G,GREEN)]:
    p.scatter([q[0] for q in nodes],[q[1] for q in nodes],size=10.5,fill_color=c,line_color="black",line_width=1)
figs.append(p)

# ---------- panel e: eigengene
p=mk(60,1035,332,1275,(.385,5.6),(-2.18,2.13),left=35,top=12,bottom=62)
p.ygrid.visible=True
p.ygrid.ticker=FixedTicker(ticks=[-2,-1,0,1,2]);p.ygrid.grid_line_color="#D3D3D3";p.ygrid.grid_line_width=2
xs=[1,2,3,4,5]
for m,lo,hi,c in [(M1_MEAN,M1_LO,M1_HI,GREEN),(M3_MEAN,M3_LO,M3_HI,BLUE),(M2_MEAN,M2_LO,M2_HI,YEL)]:
    p.line(xs,m,line_color=c,line_width=2)
    p.scatter(xs,m,size=6,color=c)
    p.segment(xs,lo,xs,hi,line_color=c,line_width=2)
    for e in (lo,hi):
        p.segment([x-.22 for x in xs],e,[x+.22 for x in xs],e,line_color=c,line_width=2)
style_axis(p.xaxis[0],xs,dict(zip(xs,TIMEPOINTS)),size=20,line=0,standoff=8,orient=.52)
style_axis(p.yaxis[0],[-2,0,2],{-2:"\u22122",0:"0",2:"2"},size=20,line=0,standoff=6)
figs.append(p)
T(4,30,1175,"Eigengene average expression",20,angle=math.pi/2)

# ---------- panel e: GO
GO_SPEC=[(GO1,GO1_V,92,432,48.67,[0,1,2,3,4,5,6],{i:str(i) for i in range(7)},4,48,"Module 1"),
         (GO2,GO2_V,597,937,98,[0,1,2,3],{0:"0",1:"1.0",2:"2.0",3:"3.0"},2,553,"Module 2"),
         (GO3,GO3_V,1100,1440,58.4,[0,1,2,3,4,5],{i:str(i) for i in range(6)},2,1054,"Module 3")]
for labs,vals,z0,zb,perx,tk,ov_t,red,ty,mod in GO_SPEC:
    ypx0=int(round(Z(4,0,z0-17)[1]));ypx1=int(round(Z(4,0,zb)[1]))
    r0=(ypx0-Z(4,0,z0)[1])*2.09/35.2
    r1=(ypx1-Z(4,0,z0)[1])*2.09/35.2
    p=mk(564,ypx0,722,ypx1,(0,(1550-1211)/perx),(r1,r0),left=340,top=10,bottom=34)
    rows=list(range(10))
    p.hbar(y=rows,right=vals,left=0,height=.86,fill_color=GRAY,line_color=None)
    p.add_layout(Span(location=red,dimension="height",line_color="#F00000",line_width=2.2))
    style_axis(p.xaxis[0],tk,ov_t,size=20,line=2,out=9,standoff=5)
    p.xaxis[0].bounds=(tk[0],tk[-1])
    style_axis(p.yaxis[0],rows,dict(zip(rows,labs)),size=20.4,line=0,standoff=7)
    figs.append(p)
    T(4,1123,ty,mod+" top 10 enriched GO terms",20.6)

# ---------- panel f
FSTOPS=[(-1,"#85B4DC"),(0,"#A8979F"),(1,"#AE2F14")]
p=mk(756,652,2094,866,(-.625,53.64),(4.59,-.49),left=90,right=6,bottom=96)
for r,(pc,ex) in enumerate(zip(PCT,EXPR)):
    xs=list(range(54))
    p.scatter(xs,[r]*54,size=[8+v/6 for v in pc],fill_color=["#7F7F7F" if e is None else lerp_hex(FSTOPS,e) for e in ex],line_color=None)
style_axis(p.xaxis[0],list(range(54)),dict(enumerate(GENES)),size=20,line=2,orient=.84,standoff=3)
style_axis(p.yaxis[0],[],{},line=2)
figs.append(p)
T(0,1425,605,"Heart - Cardiomyocytes cell death-involved gene expression",24.6)
for y,s in [(218,"0h WIT"),(345,"1h WIT"),(471,"7h WIT"),(600,"ECMO"),(727,"OrganEx")]:
    T(5,80,y,s,20,align="left")
T(5,452,187,"Average Expression",20)
T(5,672,155,"1",20);T(5,712,155,"0",20);T(5,755,155,"\u22121",20)
LEG=[1,.8,.6,.4,.2,0,-.2,-.4,-.6,-.8,-1]
for i,v in enumerate(LEG):
    Q(5,672+i*9.5,185,672+(i+1)*9.5,205,lerp_hex(FSTOPS,v))
T(6,1060,192,"Percent Expressed",20,)
for x,s,pc in [(1294,"0",0),(1340,"20",20),(1398,"40",40),(1457,"60",60),(1516,"80",80)]:
    T(6,x,137,s,20)
    a,b=Z(6,x,197); ov.scatter([a],[b],size=10+pc*.15,color="black")
ypx=Z(5,0,1137)[1]
brk=[Z(k,x,0)[0] for k,x in GROUP_BREAKS]
L(0,[(brk[0],ypx),(brk[-1],ypx)],"black",2)
for b in brk:
    L(0,[(b,ypx-10),(b,ypx+10)],"black",2)
for k,x,a,b in GENE_GROUPS:
    T(k,x,1180,a,20)
    if b: T(k,x,1253,b,20)

# ---------- panel g
GSPEC=[(800,1219,813.9,20.97,G0,G0_V,995.6,"0h WIT",True),(1250,1647,1260.4,20.0,G1,G1_V,1440,"ECMO",False),(1685,2087,1697.2,20.1,G2,G2_V,1877,"OrganEx",False)]
for a,b,c0,dx,labs,vals,tx,title,first in GSPEC:
    p=mk(a,1087,b,1216,((a-c0)/dx,(b-c0)/dx),(-5.4,104.8),left=70,top=12,bottom=95)
    xs=list(range(20))
    p.vbar(x=xs,top=vals,bottom=-1,width=.85,fill_color=GRAY,line_color=None)
    p.add_layout(Span(location=1.7,dimension="width",line_color="black",line_width=3,line_dash="7 6"))
    style_axis(p.xaxis[0],xs,dict(zip(xs,labs)),size=20,line=2,out=6,standoff=4,orient=math.pi/4)
    if first:
        style_axis(p.yaxis[0],[0,50,100],{0:"0",50:"50",100:"100"},size=20,out=4)
    else:
        style_axis(p.yaxis[0],[0,50,100],{0:"",50:"",100:""},size=1,out=4)
    figs.append(p)
    T(0,tx,1085,title,20)
T(0,1461,1049,"Heart - Cardiomyocytes cell death-involved gene expression enrichment",24.6)
T(7,20,435,"-log\u2081\u2080[P]",20,angle=math.pi/2)

# ---------- panel h
T(0,546,1335,"Relative cell-cell information flow between the groups",24.6)
HSPEC=[(85,268,92.9,259.6,H1,H1_V),(349,532,357.9,524.3,H2,H2_V),(641,823,648.2,815.4,H3,H3_V),(907,1085,915,1081.4,H4,H4_V)]
for lab,v in H4_MARK.items():
    r=H4.index(lab)
    yy=234+42.55*r
    Q(9,v,yy-22,958,yy+22,"#A6A6A6")
for a,b,x0,x1,labs,vals in HSPEC:
    k=(x1-x0)
    p=mk(a,1412,b,1952,((a-x0)/k,(b-x0)/k),(29.59,-.4),left=84,top=8,bottom=32)
    rows=list(range(30))
    p.hbar(y=rows,left=0,right=1,height=.78,fill_color=GRAY,line_color=None)
    p.hbar(y=rows,left=0,right=vals,height=.78,fill_color=BLUE,line_color=None)
    p.add_layout(Span(location=.5,dimension="height",line_color="#7F7F7F",line_width=2,line_dash="16 20"))
    style_axis(p.xaxis[0],None,None,size=21,line=2,out=5,standoff=4)
    p.xaxis[0].ticker=FixedTicker(ticks=[0,.5,1],minor_ticks=[.25,.75])
    p.xaxis[0].major_label_overrides={0:"",.5:"",1:""}
    style_axis(p.yaxis[0],rows,dict(zip(rows,labs)),size=20,line=2,out=3,standoff=1)
    p.xaxis[0].minor_tick_line_color="black";p.xaxis[0].minor_tick_line_width=2;p.xaxis[0].minor_tick_out=5;p.xaxis[0].minor_tick_in=0
    figs.append(p)
for k,x,s in H_TICK_TEXT:
    T(k,x,1538,s,21)
for k,sw,tx,sw2,tx2,s in [(8,192,275,518,600,"0h WIT"),(8,945,1028,1268,1352,"1h WIT"),(9,188,270,513,597,"7h WIT"),(9,885,968,1222,1307,"ECMO")]:
    Q(k,sw,112,sw+70,172,BLUE);T(k,tx,137,"OrganEx",20,align="left")
    Q(k,sw2,112,sw2+70,172,GRAY);T(k,tx2,137,s,20,align="left")

# ---------- panel i
T(0,1647,1335,"Overall cell-cell signaling pattern strength",24.6)
HSTOPS=[(0,"#FFF8EE"),(.15,"#FDE6C8"),(.3,"#FDCF9A"),(.5,"#FB9A68"),(.65,"#EE6B4A"),(.8,"#D42A1A"),(.9,"#A80A0A"),(1,"#7F0000")]
for lab,z0,z1,z2 in [("CCL",110,955,997),("CD39",75,1062,1100),("IL6",155,1135,1175)]:
    Q(10,z0,z1,246,z2,"#A6A6A6")
ISPEC=[(1192,1351,STR_0H,"0h WIT",1271,True,None),(1376,1536,STR_1H,"1h WIT",1456,False,None),(1564,1724,STR_7H,"7h WIT",1644,False,(22,25)),(1756,1915,STR_EC,"ECMO",1835,False,(25,29)),(1934,2094,STR_OX,"OrganEx",2014,False,None)]
for a,b,mat,title,tx,first,box in ISPEC:
    y0=1392 if first else 1389
    y1=1868 if first else 1865
    rows_end=30.87
    strip=30.17 if first else 30.37
    p=mk(a,y0,b,y1,(-.5,4.5),(rows_end,-.5),left=85 if first else 0,top=10,bottom=(1983-y1))
    cx=[];cy=[];cc=[]
    for lab,vals in mat.items():
        r=SIGNALS.index(lab)
        for c,v in enumerate(vals):
            if v is not None:
                cx.append(c);cy.append(r);cc.append(lerp_hex(HSTOPS,v))
    p.rect(cx,cy,width=1,height=1,fill_color=cc,line_color=None)
    p.rect([0,1,2,3,4],[strip]*5,width=1,height=.9,fill_color=[BLUE,YEL,IMM,GREEN,"#DDB985"],line_color=None)
    if box:
        p.quad(left=[1.5],right=[2.5],top=[box[0]-.5],bottom=[box[1]+.5],fill_color=None,line_color="#808080",line_width=2.5)
    style_axis(p.xaxis[0],[0,1,2,3,4],dict(enumerate(CELLS_I)),size=20,line=0,standoff=1,orient=math.pi/2)
    if first:
        rows=list(range(30))
        style_axis(p.yaxis[0],rows,dict(enumerate(SIGNALS)),size=20,line=0,standoff=3)
    else:
        p.yaxis.visible=False
    figs.append(p)
    T(0,tx,1370,title,20)
T(10,3,1325,"Relative",20,align="left");T(10,3,1385,"strength",20,align="left")
GRAD=[0,.1,.2,.3,.4,.5,.6,.7,.8,.9,1]
for i,v in enumerate(GRAD):
    Q(10,3+i*19.7,1420,3+(i+1)*19.7,1445,lerp_hex(HSTOPS,v))
T(10,15,1470,"0",20);T(10,215,1478,"1",20)

root=column(*figs,width=2100,height=1984,styles={"position":"relative"})
root.sizing_mode="fixed"
html=file_html(root,INLINE)
open("out.html","w").write(html)
